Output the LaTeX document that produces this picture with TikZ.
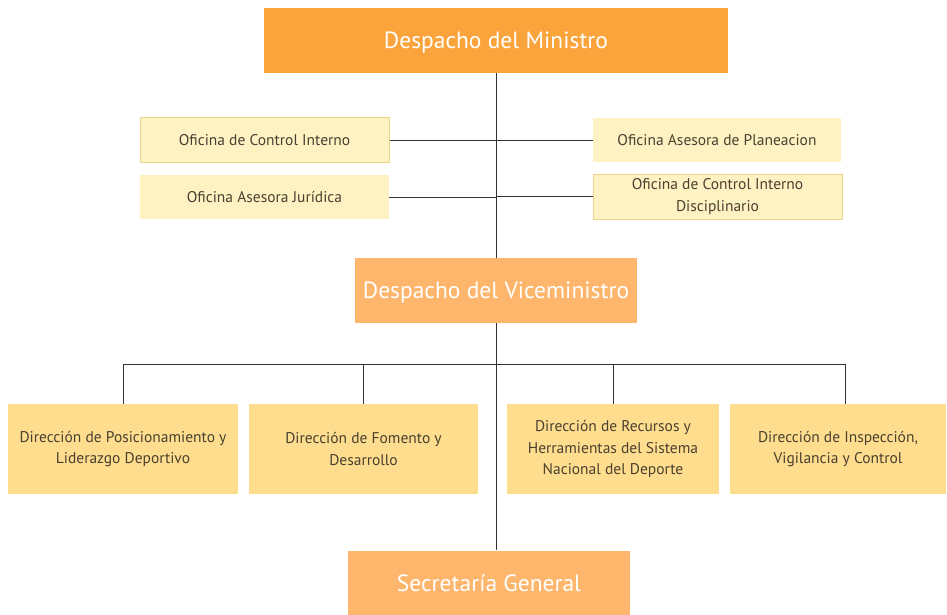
\documentclass[tikz,border=0pt]{standalone}
\usepackage{fontspec}
\setmainfont{PT Sans}
\usetikzlibrary{positioning,calc}
\definecolor{ministro}{HTML}{FCA43C}
\definecolor{vice}{HTML}{FDB66C}
\definecolor{direccion}{HTML}{FEDD8E}
\definecolor{oficina}{HTML}{FEF2C3}
\definecolor{borde}{HTML}{EDD28A}
\definecolor{letra}{HTML}{4A4030}
\definecolor{linea}{HTML}{333333}

\begin{document}
\begin{tikzpicture}[x=1pt,y=-1pt]
    \tikzstyle{jefe}=[fill=ministro,text=white,font=\fontsize{23.5}{28}\selectfont,minimum height=65pt,inner sep=0pt,text depth=0pt]
    \tikzstyle{subjefe}=[jefe,fill=vice]
    \tikzstyle{oficina}=[fill=oficina,text=letra,font=\fontsize{15.5}{22}\selectfont,minimum width=249pt,minimum height=44pt,align=center,inner sep=0pt]
    \tikzstyle{oficinaborde}=[oficina,draw=borde,line width=1pt]
    \tikzstyle{direccion}=[fill=direccion,text=letra,font=\fontsize{15.5}{21.5}\selectfont,minimum height=90pt,align=center,inner sep=0pt]
    \tikzstyle{conector}=[draw=linea,line width=0.9pt]
    \useasboundingbox (0,0) rectangle (947,615);
    \node(Ministro)[jefe,minimum width=464pt] at (496,40.5) {Despacho del Ministro};
    \node(ControlInterno)[oficinaborde] at (264.5,140) {Oficina de Control Interno};
    \node(Juridica)[oficina] at (264.5,197) {Oficina Asesora Jurídica};
    \node(Planeacion)[oficina,minimum width=248pt] at (717,140) {Oficina Asesora de Planeacion};
    \node(Disciplinario)[oficinaborde,minimum height=45pt] at (717.5,196.5) {Oficina de Control Interno\\Disciplinario};
    \node(Vice)[subjefe,minimum width=282pt] at (496,290.5) {Despacho del Viceministro};
    \node(Posicionamiento)[direccion,minimum width=230pt] at (123,449) {Dirección de Posicionamiento y\\Liderazgo Deportivo};
    \node(Fomento)[direccion,minimum width=229pt] at (363.5,449) {Dirección de Fomento y\\Desarrollo};
    \node(Recursos)[direccion,minimum width=212pt] at (613,449) {Dirección de Recursos y\\Herramientas del Sistema\\Nacional del Deporte};
    \node(Inspeccion)[direccion,minimum width=216pt] at (838,449) {Dirección de Inspección,\\Vigilancia y Control};
    \node(Secretaria)[subjefe,minimum width=282pt] at (489,583) {Secretaría General};
    \coordinate(Barra) at (496,364);

    % lineas
    \draw[conector] (Ministro.south) -- (Vice.north);
    \draw[conector] (Vice.south) -- (Vice.south |- Secretaria.north);
    \draw[conector] (ControlInterno.east) -- (ControlInterno.east -| Vice.north);
    \draw[conector] (Juridica.east) -- (Juridica.east -| Vice.north);
    \draw[conector] (Planeacion.west) -- (Planeacion.west -| Vice.north);
    \draw[conector] (Disciplinario.west) -- (Disciplinario.west -| Vice.north);
    \draw[conector] (Posicionamiento.north) -- (Posicionamiento.north |- Barra) -- ([xshift=7pt]Inspeccion.north |- Barra) -- ([xshift=7pt]Inspeccion.north);
    \draw[conector] (Fomento.north) -- (Fomento.north |- Barra);
    \draw[conector] (Recursos.north) -- (Recursos.north |- Barra);
\end{tikzpicture}
\end{document}
